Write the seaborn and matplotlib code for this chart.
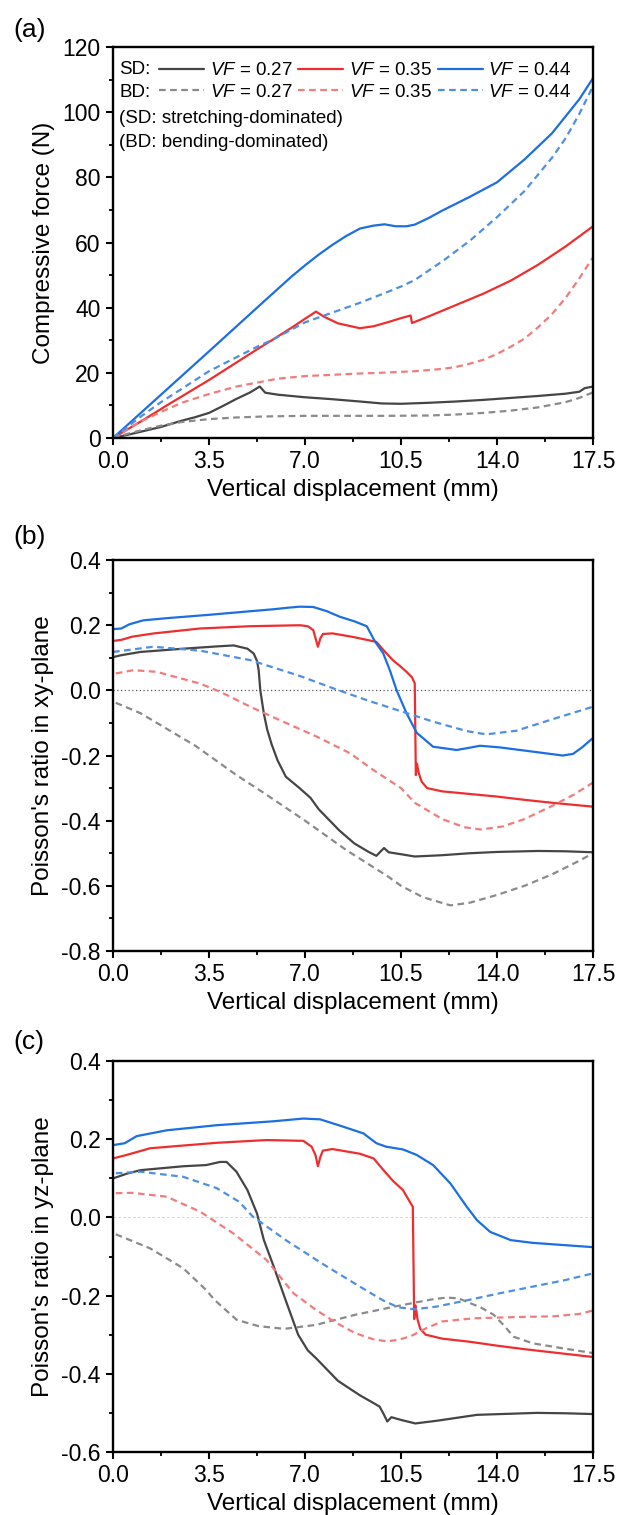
import numpy as np
import pandas as pd
import matplotlib
matplotlib.use("Agg")
import matplotlib.pyplot as plt
from matplotlib.lines import Line2D
from matplotlib.ticker import MultipleLocator, FuncFormatter
import seaborn as sns

# ---------------- data ----------------
# (a) compressive force (N) vs vertical displacement (mm)
A_X_SD27 = [0, 0.5, 1.0, 1.75, 2.5, 3.0, 3.5, 4.0, 4.5, 5.0, 5.35, 5.55, 6.0, 7.0, 8.0, 9.0, 9.8, 10.5,
            11.5, 12.5, 13.5, 14.5, 15.5, 16.5, 17.0, 17.2, 17.5]
A_Y_SD27 = [0, 0.9, 1.9, 3.4, 5.3, 6.4, 7.7, 9.8, 12.0, 14.0, 15.8, 13.9, 13.3, 12.5, 11.9, 11.2, 10.6, 10.5,
            10.8, 11.2, 11.7, 12.3, 12.9, 13.6, 14.2, 15.3, 15.8]
A_X_BD27 = [0, 0.5, 1.0, 1.75, 2.5, 3.5, 4.5, 5.5, 7.0, 8.5, 10.0, 11.5, 12.5, 13.5, 14.5, 15.5, 16.5, 17.0, 17.5]
A_Y_BD27 = [0, 1.2, 2.3, 3.8, 4.9, 5.8, 6.3, 6.6, 6.8, 6.8, 6.8, 6.9, 7.2, 7.7, 8.4, 9.4, 11.0, 12.3, 14.0]
A_X_SD35 = [0, 1.0, 2.0, 3.5, 5.25, 5.75, 6.5, 7.0, 7.4, 7.7, 8.2, 9.0, 9.5, 10.0, 10.5, 10.85, 10.9,
            11.5, 12.5, 13.5, 14.5, 15.5, 16.5, 17.5]
A_Y_SD35 = [0, 5.0, 10.2, 17.8, 27.2, 29.8, 33.8, 36.6, 38.8, 37.2, 35.2, 33.7, 34.3, 35.5, 36.8, 37.6, 35.3,
            37.3, 40.8, 44.3, 48.3, 53.2, 58.8, 65.0]
A_X_BD35 = [0, 1.0, 1.75, 2.5, 3.5, 4.5, 5.25, 6.0, 7.0, 8.0, 9.0, 10.0, 11.0, 12.0, 12.5, 13.0, 13.5, 14.0,
            14.5, 15.0, 15.5, 16.0, 16.5, 17.0, 17.5]
A_Y_BD35 = [0, 5.0, 8.0, 10.8, 13.5, 15.8, 17.0, 18.2, 19.0, 19.4, 19.8, 20.1, 20.5, 21.2, 21.8, 22.8, 24.0, 25.8,
            28.0, 30.5, 34.0, 38.0, 43.0, 49.0, 55.5]
A_X_SD44 = [0, 1.0, 2.0, 3.5, 5.25, 6.5, 7.0, 7.5, 8.0, 8.5, 9.0, 9.5, 9.9, 10.3, 10.7, 11.0, 11.5, 12.0,
            13.0, 14.0, 15.0, 16.0, 17.0, 17.5]
A_Y_SD44 = [0, 7.6, 15.2, 26.6, 40.0, 49.5, 53.0, 56.3, 59.3, 62.0, 64.3, 65.2, 65.6, 65.0, 65.0, 65.5, 67.5, 69.8,
            74.0, 78.5, 85.5, 93.5, 104.0, 110.5]
A_X_BD44 = [0, 1.0, 1.75, 3.5, 5.25, 5.75, 6.0, 7.0, 8.0, 9.0, 10.0, 10.5, 11.0, 12.0, 13.0, 14.0, 15.0, 16.0,
            16.5, 17.0, 17.5]
A_Y_BD44 = [0, 6.5, 11.0, 20.5, 28.0, 29.9, 31.0, 35.5, 38.5, 41.5, 44.8, 46.5, 48.5, 54.2, 60.5, 67.8, 75.8, 86.0,
            92.0, 99.5, 108.0]

# (b) Poisson's ratio in xy-plane
B_X_SD27 = [0, 0.3, 1.0, 2.56, 3.78, 4.4, 4.9, 5.13, 5.25, 5.31, 5.37, 5.5, 5.62, 5.78, 6.0, 6.3, 6.8, 7.2,
            7.5, 8.25, 8.8, 9.3, 9.6, 9.75, 9.88, 10.05, 10.5, 11.0, 12.0, 13.0, 14.0, 15.5, 16.5, 17.5]
B_Y_SD27 = [0.102, 0.108, 0.118, 0.128, 0.135, 0.138, 0.128, 0.113, 0.09, 0.062, 0.0, -0.072, -0.12, -0.165,
            -0.215, -0.265, -0.3, -0.33, -0.365, -0.43, -0.47, -0.495, -0.508, -0.495, -0.484, -0.497, -0.503,
            -0.51, -0.506, -0.5, -0.496, -0.493, -0.494, -0.497]
B_X_BD27 = [0.1, 1.0, 2.0, 3.0, 3.5, 4.5, 5.5, 7.0, 8.5, 10.0, 10.5, 11.3, 12.3, 13.0, 14.0, 15.0, 16.0, 17.0, 17.5]
B_Y_BD27 = [-0.038, -0.07, -0.12, -0.17, -0.2, -0.26, -0.315, -0.4, -0.49, -0.57, -0.6, -0.635, -0.66, -0.652,
            -0.628, -0.6, -0.565, -0.523, -0.5]
B_X_SD35 = [0, 0.3, 0.7, 1.5, 3.17, 5.0, 6.82, 7.1, 7.3, 7.47, 7.56, 7.65, 8.0, 8.75, 9.6, 9.9, 10.2, 10.5,
            10.7, 10.9, 11.0, 11.04, 11.08, 11.15, 11.25, 11.45, 12.0, 13.0, 14.0, 15.0, 16.0, 17.5]
B_Y_SD35 = [0.152, 0.155, 0.165, 0.175, 0.19, 0.197, 0.2, 0.197, 0.185, 0.134, 0.16, 0.173, 0.175, 0.164, 0.149,
            0.12, 0.093, 0.072, 0.057, 0.04, 0.022, -0.26, -0.225, -0.255, -0.28, -0.3, -0.31, -0.318, -0.326,
            -0.336, -0.345, -0.357]
B_X_BD35 = [0.1, 0.74, 1.59, 3.17, 3.9, 5.0, 6.2, 7.43, 8.64, 9.5, 10.5, 11.0, 12.0, 12.8, 13.4, 14.2, 15.0,
            16.0, 16.8, 17.5]
B_Y_BD35 = [0.052, 0.062, 0.057, 0.021, -0.004, -0.05, -0.096, -0.142, -0.193, -0.245, -0.3, -0.345, -0.395,
            -0.42, -0.427, -0.418, -0.395, -0.355, -0.32, -0.283]
B_X_SD44 = [0, 0.3, 0.6, 1.1, 2.0, 3.5, 5.0, 5.84, 6.4, 6.82, 7.3, 7.8, 8.27, 8.8, 9.25, 9.55, 9.85, 10.1,
            10.34, 10.7, 11.07, 11.67, 12.53, 13.0, 13.38, 14.1, 15.3, 16.4, 16.77, 17.1, 17.5]
B_Y_SD44 = [0.188, 0.19, 0.203, 0.215, 0.222, 0.232, 0.243, 0.249, 0.254, 0.257, 0.256, 0.243, 0.226, 0.212,
            0.197, 0.15, 0.114, 0.06, 0.0, -0.07, -0.13, -0.173, -0.183, -0.176, -0.17, -0.175, -0.188, -0.2,
            -0.195, -0.175, -0.146]
B_X_BD44 = [0, 1.47, 3.17, 5.0, 6.82, 8.04, 9.25, 10.46, 11.67, 12.9, 13.6, 14.7, 15.93, 17.5]
B_Y_BD44 = [0.118, 0.134, 0.122, 0.093, 0.044, 0.006, -0.03, -0.063, -0.096, -0.125, -0.135, -0.124, -0.091, -0.05]

# (c) Poisson's ratio in yz-plane
C_X_SD27 = [0, 0.13, 0.5, 1.0, 2.56, 3.4, 3.9, 4.14, 4.5, 4.9, 5.25, 5.5, 5.86, 6.29, 6.75, 7.1, 7.4, 8.2, 9.0,
            9.5, 9.72, 9.88, 10.0, 10.15, 10.5, 11.02, 11.82, 13.27, 15.44, 16.5, 17.5]
C_Y_SD27 = [0.1, 0.103, 0.112, 0.121, 0.131, 0.134, 0.142, 0.142, 0.117, 0.07, 0.01, -0.058, -0.126, -0.211,
            -0.3, -0.34, -0.36, -0.418, -0.455, -0.475, -0.484, -0.505, -0.522, -0.511, -0.518, -0.527, -0.52,
            -0.505, -0.5, -0.501, -0.503]
C_X_BD27 = [0.1, 1.35, 2.56, 3.4, 3.7, 4.51, 5.3, 6.24, 7.39, 8.83, 10.27, 11.0, 11.6, 12.15, 12.6, 12.87, 13.4,
            13.88, 14.3, 14.6, 15.3, 16.33, 17.5]
C_Y_BD27 = [-0.043, -0.079, -0.13, -0.186, -0.211, -0.262, -0.278, -0.285, -0.275, -0.249, -0.228, -0.218, -0.21,
            -0.205, -0.207, -0.215, -0.23, -0.249, -0.28, -0.305, -0.322, -0.334, -0.347]
C_X_SD35 = [0, 0.5, 1.35, 3.78, 5.6, 6.94, 7.24, 7.38, 7.47, 7.56, 7.65, 8.0, 9.0, 9.5, 9.96, 10.2, 10.57,
            10.93, 10.98, 11.03, 11.1, 11.2, 11.4, 12.0, 13.0, 14.0, 15.0, 16.0, 17.5]
C_Y_SD35 = [0.151, 0.16, 0.177, 0.191, 0.198, 0.196, 0.181, 0.16, 0.131, 0.155, 0.171, 0.175, 0.163, 0.151,
            0.113, 0.094, 0.07, 0.027, -0.26, -0.225, -0.26, -0.285, -0.3, -0.31, -0.318, -0.328, -0.337,
            -0.345, -0.357]
C_X_BD35 = [0.1, 0.7, 1.96, 3.17, 4.39, 5.6, 6.58, 7.39, 8.1, 8.83, 9.5, 9.99, 10.4, 10.85, 11.43, 12.0, 13.16,
            14.6, 16.04, 17.0, 17.5]
C_Y_BD35 = [0.062, 0.063, 0.053, 0.015, -0.041, -0.109, -0.194, -0.236, -0.268, -0.296, -0.312, -0.317, -0.313,
            -0.304, -0.283, -0.266, -0.258, -0.255, -0.253, -0.247, -0.238]
C_X_SD44 = [0, 0.43, 0.86, 1.96, 3.78, 5.84, 6.94, 7.55, 8.27, 9.13, 9.6, 9.96, 10.57, 11.07, 11.67, 12.3,
            12.9, 13.27, 13.75, 14.5, 15.3, 16.5, 17.5]
C_Y_SD44 = [0.185, 0.19, 0.208, 0.223, 0.236, 0.246, 0.253, 0.251, 0.235, 0.215, 0.19, 0.181, 0.174, 0.16,
            0.134, 0.087, 0.027, -0.007, -0.037, -0.058, -0.065, -0.071, -0.076]
C_X_BD44 = [0.1, 1.0, 2.56, 3.78, 4.6, 5.1, 6.3, 7.6, 9.0, 9.84, 10.4, 11.0, 11.8, 12.9, 14.1, 15.3, 16.5, 17.5]
C_Y_BD44 = [0.113, 0.117, 0.104, 0.075, 0.04, 0.002, -0.058, -0.117, -0.177, -0.212, -0.23, -0.235, -0.228,
            -0.212, -0.194, -0.177, -0.16, -0.143]

SERIES = ["SD27", "SD35", "SD44", "BD27", "BD35", "BD44"]
VF_LABELS = ["0.27", "0.35", "0.44"]
X_TICKS = [0, 3.5, 7.0, 10.5, 14.0, 17.5]

PALETTE = {"SD27": "#454545", "SD35": "#ee2e2e", "SD44": "#1c6fe0",
           "BD27": "#8a8a8a", "BD35": "#f27b7b", "BD44": "#4f8fe3"}
DASHES = {"SD27": "", "SD35": "", "SD44": "",
          "BD27": (3, 2), "BD35": (3, 2), "BD44": (3, 2)}

# ---------------- style ----------------
sns.set_theme(style="ticks")
plt.rcParams["font.family"] = ["Liberation Sans", "DejaVu Sans"]
plt.rcParams["mathtext.fontset"] = "custom"
plt.rcParams["mathtext.rm"] = "Liberation Sans"
plt.rcParams["mathtext.it"] = "Liberation Sans:italic"
plt.rcParams["axes.unicode_minus"] = False
for key in ["text.color", "axes.labelcolor", "xtick.color", "ytick.color", "axes.edgecolor"]:
    plt.rcParams[key] = "black"

fig = plt.figure(figsize=(6.2, 15.15), dpi=100)
L, W, H = 0.1823, 0.7742, 0.2580
ax_a = fig.add_axes([L, 0.7109, W, H])
ax_b = fig.add_axes([L, 0.3723, W, H])
ax_c = fig.add_axes([L, 0.0416, W, H])


def long_df(pairs):
    frames = [pd.DataFrame({"x": xs, "y": ys, "series": name})
              for name, (xs, ys) in zip(SERIES, pairs)]
    return pd.concat(frames, ignore_index=True)


def draw(ax, pairs):
    df = long_df(pairs)
    sns.lineplot(data=df, x="x", y="y", hue="series", style="series",
                 hue_order=SERIES, style_order=SERIES, palette=PALETTE, dashes=DASHES,
                 estimator=None, linewidth=1.6, legend=False, ax=ax)


def dec1(v, pos):
    return f"{round(v, 1) + 0:.1f}"


def finish(ax, ylim, ymaj, ymin, yfmt, ylabel):
    ax.set_xlim(0, 17.5)
    ax.set_ylim(*ylim)
    ax.set_xticks(X_TICKS)
    ax.xaxis.set_minor_locator(MultipleLocator(1.75))
    ax.xaxis.set_major_formatter(FuncFormatter(dec1))
    ax.yaxis.set_major_locator(MultipleLocator(ymaj))
    ax.yaxis.set_minor_locator(MultipleLocator(ymin))
    ax.yaxis.set_major_formatter(FuncFormatter(yfmt))
    ax.tick_params(which="major", direction="out", length=5, width=1.5, labelsize=16.5,
                   pad=4, colors="black", top=False, right=False)
    ax.tick_params(which="minor", direction="out", length=3, width=1.3,
                   top=False, right=False)
    for sp in ax.spines.values():
        sp.set_linewidth(1.7)
        sp.set_color("black")
    ax.set_xlabel("Vertical displacement (mm)", fontsize=17.5, labelpad=4)
    ax.set_ylabel(ylabel, fontsize=17.5, labelpad=5)


draw(ax_a, [(A_X_SD27, A_Y_SD27), (A_X_SD35, A_Y_SD35), (A_X_SD44, A_Y_SD44),
            (A_X_BD27, A_Y_BD27), (A_X_BD35, A_Y_BD35), (A_X_BD44, A_Y_BD44)])
draw(ax_b, [(B_X_SD27, B_Y_SD27), (B_X_SD35, B_Y_SD35), (B_X_SD44, B_Y_SD44),
            (B_X_BD27, B_Y_BD27), (B_X_BD35, B_Y_BD35), (B_X_BD44, B_Y_BD44)])
draw(ax_c, [(C_X_SD27, C_Y_SD27), (C_X_SD35, C_Y_SD35), (C_X_SD44, C_Y_SD44),
            (C_X_BD27, C_Y_BD27), (C_X_BD35, C_Y_BD35), (C_X_BD44, C_Y_BD44)])

ax_b.axhline(0, color="#555555", lw=0.9, ls=(0, (1, 2)), zorder=0)
ax_c.axhline(0, color="#d6d6d6", lw=0.7, ls=(0, (3, 2)), zorder=0)

finish(ax_a, (0, 120), 20, 10, lambda v, p: f"{v:.0f}", "Compressive force (N)")
finish(ax_b, (-0.8, 0.4), 0.2, 0.1, dec1, "Poisson's ratio in xy-plane")
finish(ax_c, (-0.6, 0.4), 0.2, 0.1, dec1, "Poisson's ratio in yz-plane")

# legend in (a): SD/BD rows, three VF columns
handles, labels = [], []
for vf, sd, bd in zip(VF_LABELS, SERIES[:3], SERIES[3:]):
    handles.append(Line2D([], [], color=PALETTE[sd], lw=1.6))
    labels.append(r"$VF$ = " + vf)
    handles.append(Line2D([], [], color=PALETTE[bd], lw=1.6, ls=(0, (3, 2))))
    labels.append(r"$VF$ = " + vf)
ax_a.legend(handles, labels, ncol=3, loc="upper left", bbox_to_anchor=(0.096, 0.962),
            frameon=False, fontsize=13.5, handlelength=2.4, handletextpad=0.3,
            columnspacing=0.3, labelspacing=0.25, borderpad=0, borderaxespad=0)
ax_a.text(0.0125, 0.943, "SD:", transform=ax_a.transAxes, fontsize=13.5, va="center")
ax_a.text(0.0125, 0.884, "BD:", transform=ax_a.transAxes, fontsize=13.5, va="center")
ax_a.text(0.0125, 0.817, "(SD: stretching-dominated)", transform=ax_a.transAxes, fontsize=13.5, va="center")
ax_a.text(0.0125, 0.756, "(BD: bending-dominated)", transform=ax_a.transAxes, fontsize=13.5, va="center")

for lab, yp in [("(a)", 30.5), ("(b)", 537), ("(c)", 1042)]:
    fig.text(13 / 620, 1 - yp / 1515, lab, fontsize=19, va="center", ha="left")

fig.savefig("out.png", dpi=100)
